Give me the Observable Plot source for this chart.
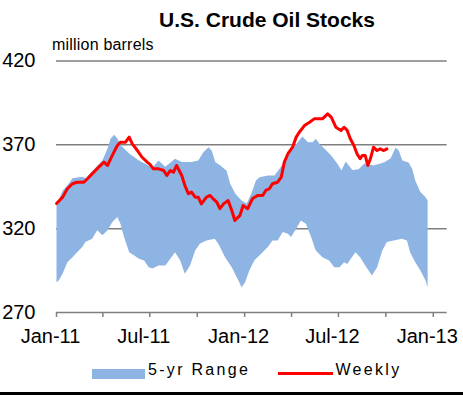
<!DOCTYPE html>
<html>
<head>
<meta charset="utf-8">
<script src="https://cdn.jsdelivr.net/npm/d3@7"></script>
<script src="https://cdn.jsdelivr.net/npm/@observablehq/plot@0.6"></script>
<style>
  body { margin: 0; background: #fff; }
  #wrap { position: relative; width: 463px; height: 395px; overflow: hidden; background: #fff;
          font-family: "Liberation Sans", Arial, sans-serif; color: #000; }
  #chart { position: absolute; left: 0; top: 0; }
  .abs { position: absolute; white-space: nowrap; }
  #title { left: 147px; width: 240px; top: 8.5px; text-align: center; font-size: 21px; line-height: 21px; font-weight: bold; }
  #unit { left: 52px; top: 37px; font-size: 16px; line-height: 16px; letter-spacing: 0.2px; }
  .legtext { top: 362px; font-size: 16px; line-height: 16px; letter-spacing: 2.3px; }
  #legBand { left: 92px; top: 369px; width: 53px; height: 9.5px; background: #8DB4E2; }
  #legLine { left: 278px; top: 371.5px; width: 55px; height: 3px; background: #FF0000; }
  #bottomBar { left: 0; top: 392px; width: 463px; height: 3px; background: #000; }
</style>
</head>
<body>
<div id="wrap">
  <div id="chart"></div>
  <div class="abs" id="title"></div>
  <div class="abs" id="unit"></div>
  <div class="abs" id="legBand"></div>
  <div class="abs legtext" id="legBandText" style="left:148px"></div>
  <div class="abs" id="legLine"></div>
  <div class="abs legtext" id="legLineText" style="left:335.5px"></div>
  <div class="abs" id="bottomBar"></div>
</div>
<script>
// ---- Text ----
const titleText = "U.S. Crude Oil Stocks";
const unitText = "million barrels";
const legendLabels = ["5-yr Range", "Weekly"];

// ---- Axes ----
const xDomain = ["2011-01-01", "2013-01-28"];
const tickDates = ["2011-01-01","2011-04-01","2011-07-01","2011-10-01","2012-01-01","2012-04-01","2012-07-01","2012-10-01","2013-01-01"];
const tickLabels = ["Jan-11","","Jul-11","","Jan-12","","Jul-12","","Jan-13"];
const yTicks = [270, 320, 370, 420];
const gridValues = [320, 370, 420];

// ---- 5-yr range: upper edge ----
const upperDates = ["2011-01-01","2011-01-13","2011-01-22","2011-02-01","2011-02-20","2011-02-27","2011-03-12","2011-03-31","2011-04-10","2011-04-16","2011-04-23","2011-04-29","2011-05-06","2011-05-22","2011-06-10","2011-07-06","2011-07-18","2011-07-31","2011-08-19","2011-09-01","2011-09-20","2011-10-03","2011-10-13","2011-10-23","2011-10-29","2011-11-05","2011-11-15","2011-11-27","2011-12-04","2011-12-14","2011-12-26","2012-01-05","2012-01-14","2012-01-23","2012-01-30","2012-02-15","2012-02-28","2012-03-09","2012-03-18","2012-03-31","2012-04-13","2012-04-22","2012-05-03","2012-05-12","2012-05-18","2012-05-25","2012-06-04","2012-06-17","2012-06-29","2012-07-07","2012-07-15","2012-07-28","2012-08-09","2012-08-21","2012-09-07","2012-09-27","2012-10-10","2012-10-20","2012-10-26","2012-11-02","2012-11-14","2012-11-21","2012-11-27","2012-12-07","2012-12-17","2012-12-21"];
const upperValues = [334,342.8,345.8,350,351,350,354.6,360.7,367.8,373.8,376,373.8,369.6,364.8,360.7,356.5,360.7,357,361.7,359.7,359.7,360.7,365.6,368.6,366.6,359.7,357.7,354.6,346.8,340.8,336.8,335,341,348.7,350.7,351.7,351.7,355.9,359.7,366.6,371.6,375,371.6,371.6,373.6,370.6,367.6,363.6,358.7,354.7,360,355,355.5,359,357.7,359.5,361.9,368.4,366.6,360.7,359.5,355.7,348.7,341.8,338.8,336.8];

// ---- 5-yr range: lower edge ----
const lowerDates = ["2011-01-01","2011-01-05","2011-01-13","2011-01-22","2011-02-01","2011-02-10","2011-02-20","2011-02-26","2011-03-11","2011-03-21","2011-03-31","2011-04-10","2011-04-19","2011-04-29","2011-05-05","2011-05-12","2011-05-22","2011-06-01","2011-06-10","2011-06-20","2011-06-29","2011-07-06","2011-07-18","2011-07-31","2011-08-12","2011-08-19","2011-08-29","2011-09-07","2011-09-17","2011-09-27","2011-10-06","2011-10-19","2011-11-04","2011-11-11","2011-11-24","2011-12-07","2011-12-20","2011-12-26","2012-01-02","2012-01-10","2012-01-20","2012-02-02","2012-02-15","2012-02-24","2012-03-05","2012-03-15","2012-03-25","2012-03-31","2012-04-10","2012-04-19","2012-04-29","2012-05-09","2012-05-18","2012-05-31","2012-06-13","2012-06-23","2012-07-03","2012-07-12","2012-07-18","2012-07-27","2012-08-03","2012-08-12","2012-08-22","2012-09-04","2012-09-14","2012-09-24","2012-10-03","2012-10-16","2012-11-01","2012-11-11","2012-11-17","2012-11-27","2012-12-07","2012-12-17","2012-12-21"];
const lowerValues = [288,289,293.3,300,303,306,309,312,314,319,316,319,323.9,326.9,322.9,315,306,304,302,301,297,296.3,298.1,298.1,303,306,301,293.1,298.1,307,311,313,314,311,303,297,289.1,285.1,288.1,295.1,301.1,305,309,313,313,318,317,315,320,324.9,323,315,307,303,301,297,297,300,299,303,306,303,298.1,292.1,297,307,312,313,314,313,306,300,295.1,289.1,285.1];

// ---- Weekly stocks ----
const weeklyDates = ["2011-01-01","2011-01-13","2011-01-22","2011-02-01","2011-02-10","2011-02-23","2011-03-02","2011-03-11","2011-03-24","2011-04-03","2011-04-10","2011-04-19","2011-04-29","2011-05-05","2011-05-15","2011-05-22","2011-05-28","2011-06-07","2011-06-16","2011-06-26","2011-07-01","2011-07-08","2011-07-18","2011-07-28","2011-08-03","2011-08-10","2011-08-16","2011-08-22","2011-09-01","2011-09-07","2011-09-14","2011-09-20","2011-09-27","2011-10-03","2011-10-09","2011-10-19","2011-10-26","2011-11-01","2011-11-08","2011-11-14","2011-11-21","2011-11-30","2011-12-07","2011-12-13","2011-12-23","2011-12-29","2012-01-07","2012-01-16","2012-01-26","2012-02-05","2012-02-11","2012-02-18","2012-02-24","2012-03-05","2012-03-12","2012-03-18","2012-03-25","2012-04-03","2012-04-10","2012-04-16","2012-04-26","2012-05-06","2012-05-15","2012-05-31","2012-06-10","2012-06-17","2012-06-26","2012-07-06","2012-07-12","2012-07-18","2012-07-24","2012-07-31","2012-08-06","2012-08-12","2012-08-16","2012-08-22","2012-08-27","2012-09-01","2012-09-07","2012-09-14","2012-09-20","2012-09-27","2012-10-03"];
const weeklyValues = [335,338.8,343.8,346.8,347.7,347.7,349.8,352.7,356.7,359.7,357.7,363.6,369.6,371.6,371.6,374.6,370.6,366.6,362.6,359.7,358.5,355.7,355.7,354.7,351.7,354.7,353.7,357.7,351.7,345.8,340.8,341.8,338.8,338.8,334.8,338.8,339.8,337.8,335.8,331.9,334.8,336.8,330.9,324.9,327.9,333.8,331.9,337.8,339.8,339.8,342.8,343.8,346.8,347.7,350.7,359.7,364.7,368.6,374.6,377.5,381.5,383.5,385.5,385.5,388.5,386.5,380.5,378.6,380.5,378.6,373.6,369.6,364.7,361.7,363.6,363.6,357.7,361.7,368.6,366.6,367.6,366.6,367.6];

// ---- Build ----
const parse = d3.utcParse("%Y-%m-%d");
const upper = upperDates.map((d, i) => ({date: parse(d), value: upperValues[i]}));
const lower = lowerDates.map((d, i) => ({date: parse(d), value: lowerValues[i]}));
const band = upper.concat(lower.slice().reverse());
const weekly = weeklyDates.map((d, i) => ({date: parse(d), value: weeklyValues[i]}));
const labelMap = new Map(tickDates.map((d, i) => [+parse(d), tickLabels[i]]));

const chart = Plot.plot({
  width: 463,
  height: 395,
  marginTop: 60.5,
  marginBottom: 83,
  marginLeft: 56,
  marginRight: 16.3,
  style: {fontFamily: "Liberation Sans, Arial, sans-serif", background: "transparent", color: "#000", overflow: "visible"},
  x: {type: "utc", domain: xDomain.map(parse)},
  y: {domain: [270, 420]},
  marks: [
    Plot.ruleY(gridValues, {stroke: "#7f7f7f", strokeWidth: 1.5}),
    Plot.line(band, {x: "date", y: "value", fill: "#8DB4E2", stroke: "none"}),
    Plot.ruleY([yTicks[0]], {stroke: "#7f7f7f", strokeWidth: 1.5}),
    Plot.line(weekly, {x: "date", y: "value", stroke: "#FF0000", strokeWidth: 3, strokeLinejoin: "round", strokeLinecap: "round"}),
    Plot.axisX({ticks: tickDates.map(parse), tickSize: 5, stroke: "#7f7f7f", strokeWidth: 1.5, tickFormat: () => "", label: null}),
    Plot.axisX({ticks: tickDates.map(parse), tickSize: 0, tickPadding: 16, dx: -6, fontSize: 20, fill: "#000", tickFormat: d => labelMap.get(+d), label: null}),
    Plot.axisY({ticks: yTicks, tickSize: 0, tickPadding: 21, fontSize: 20, fill: "#000", label: null})
  ]
});
document.getElementById("chart").appendChild(chart);
document.getElementById("title").textContent = titleText;
document.getElementById("unit").textContent = unitText;
document.getElementById("legBandText").textContent = legendLabels[0];
document.getElementById("legLineText").textContent = legendLabels[1];
</script>
</body>
</html>
